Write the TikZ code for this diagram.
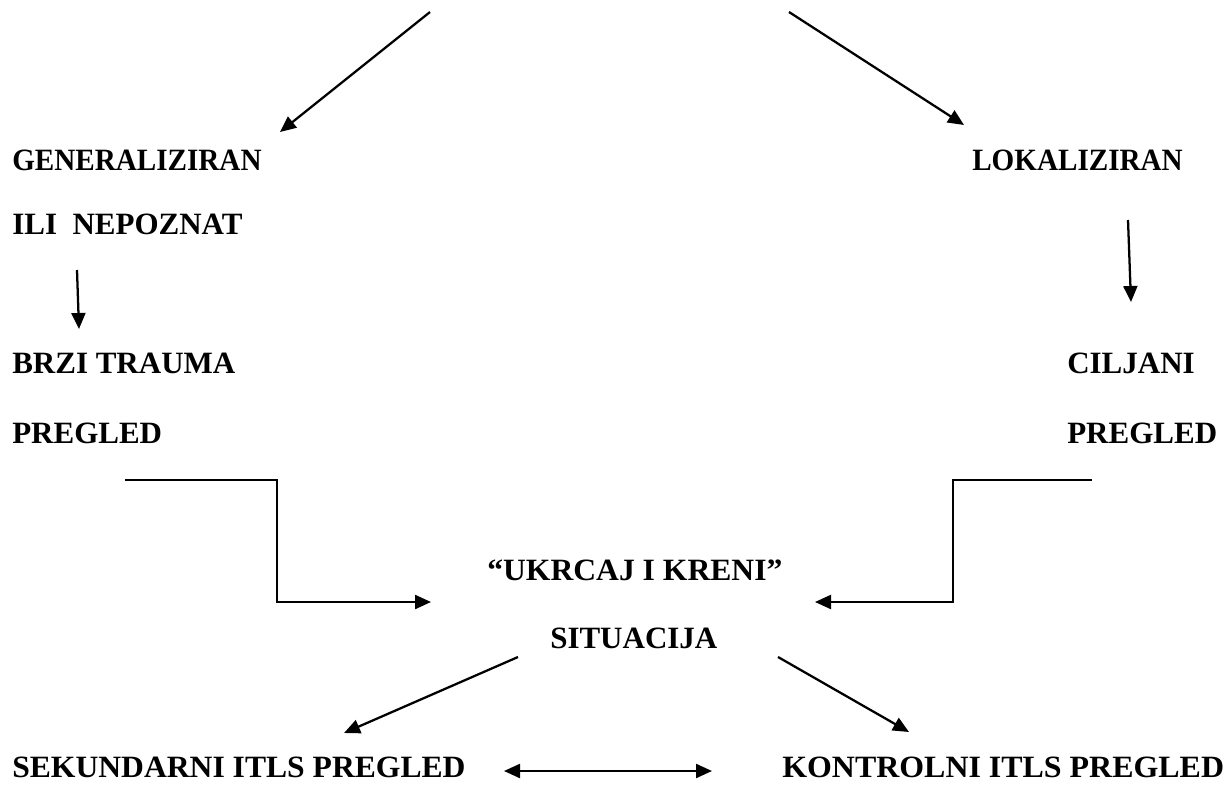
\documentclass[tikz,border=0pt]{standalone}
\usepackage{fontspec}
\setmainfont{Liberation Serif}
\usetikzlibrary{arrows.meta}
\begin{document}
\begin{tikzpicture}[x=0.75pt,y=-0.75pt,
  lbl/.style={inner sep=0pt,anchor=base west,font=\bfseries\fontsize{23.25pt}{28pt}\selectfont},
  conn/.style={line width=1.7pt,-{Triangle[length=12pt,width=10.5pt]}},
  dconn/.style={line width=1.7pt,{Triangle[length=12pt,width=10.5pt]}-{Triangle[length=12pt,width=10.5pt]}},
  elbow/.style={line width=1.7pt,-{Triangle[length=12pt,width=10.5pt]}}]
\useasboundingbox (0,0) rectangle (1227,785);
% text nodes
\node[lbl,xscale=0.94] (gen) at (12,170) {GENERALIZIRAN};
\node[lbl] (ili) at (12,234) {ILI\ \ NEPOZNAT};
\node[lbl] (brzi) at (12,373) {BRZI TRAUMA};
\node[lbl] (pregL) at (12,443) {PREGLED};
\node[lbl,xscale=0.94] (lok) at (972,170) {LOKALIZIRAN};
\node[lbl] (cilj) at (1067,373) {CILJANI};
\node[lbl] (pregR) at (1067,443) {PREGLED};
\node[lbl,xscale=1.02] (ukr) at (487,580) {``UKRCAJ I KRENI''};
\node[lbl] (sit) at (550,648) {SITUACIJA};
\node[lbl,xscale=1.02] (sek) at (12,777) {SEKUNDARNI ITLS PREGLED};
\node[lbl,xscale=1.03] (kon) at (782,777) {KONTROLNI ITLS PREGLED};
% connector end points
\coordinate (a1s) at (430,12);  \coordinate (a1e) at (280,132);
\coordinate (a2s) at (789,12);  \coordinate (a2e) at (964,125);
\coordinate (d1s) at (77,270);  \coordinate (d1e) at (79,329);
\coordinate (d2s) at (1128,220); \coordinate (d2e) at (1131,302);
\coordinate (e1s) at (125,480); \coordinate (e1m) at (277,602); \coordinate (e1e) at (431,602);
\coordinate (e2s) at (1092,480); \coordinate (e2m) at (953,602); \coordinate (e2e) at (815,602);
\coordinate (s1s) at (518,657); \coordinate (s1e) at (344,733);
\coordinate (s2s) at (778,657); \coordinate (s2e) at (909,732);
\coordinate (bl) at (504,771); \coordinate (br) at (712,771);
% connectors
\draw[conn] (a1s) -- (a1e);
\draw[conn] (a2s) -- (a2e);
\draw[conn] (d1s) -- (d1e);
\draw[conn] (d2s) -- (d2e);
\draw[elbow] (e1s) -| (e1m) -- (e1e);
\draw[elbow] (e2s) -| (e2m) -- (e2e);
\draw[conn] (s1s) -- (s1e);
\draw[conn] (s2s) -- (s2e);
\draw[dconn] (bl) -- (br);
\end{tikzpicture}
\end{document}
